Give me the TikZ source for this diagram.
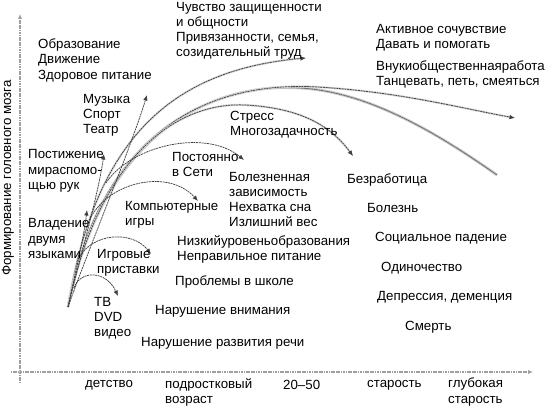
\documentclass[tikz,border=0pt]{standalone}
\usepackage{fontspec}
\setmainfont{Liberation Sans}
\usetikzlibrary{arrows.meta}
\begin{document}
\begin{tikzpicture}[x=1pt,y=-1pt,
  txt/.style={anchor=west,inner sep=0pt,align=left,font=\fontsize{13.3}{15.2}\selectfont},
  axis/.style={gray!75,line width=1.6pt,dash pattern=on 1.2pt off 0.5pt},
  curve/.style={black!75,line width=0.75pt,dash pattern=on 2pt off 0.7pt},
  tip/.style={-{Latex[length=5.5pt,width=4.5pt]}},
  halo/.style={preaction={draw,gray!30,line width=2.2pt,solid}},
  thickgray/.style={gray!40,line width=2.8pt,postaction={draw,gray!85!black,line width=0.9pt,dash pattern=on 2pt off 0.5pt}}]
\useasboundingbox (0,0) rectangle (550,411);
% axes
\coordinate (yb) at (20,383);
\coordinate (yt) at (20,14);
\coordinate (xl) at (11,372);
\coordinate (xr) at (533,372);
\draw[axis,-{Latex[length=5pt,width=4.5pt]}] (yb) -- (yt);
\draw[axis,-{Latex[length=5pt,width=4.5pt]}] (xl) -- (xr);
\node[rotate=90,inner sep=0pt,font=\fontsize{13.3}{15}\selectfont] (ylab) at (8,178) {Формирование головного мозга};
% x labels
\node[txt] (l1) at (85,385) {детство};
\node[txt,anchor=north west] (l2) at (165,378) {подростковый\\возраст};
\node[txt] (l3) at (283,385) {20–50};
\node[txt] (l4) at (367,385) {старость};
\node[txt,anchor=north west] (l5) at (448,378) {глубокая\\старость};
% coordinates of curves
\coordinate (O) at (68,307);
\coordinate (eMus) at (147,95);
\coordinate (ePost) at (104,154);
\coordinate (eVlad) at (87,210);
\coordinate (eA) at (306,58);
\coordinate (mB) at (318,87);
\coordinate (eB) at (515,118);
\coordinate (mC) at (300,88);
\coordinate (eC) at (497,175);
\coordinate (mD) at (245,105);
\coordinate (eD) at (353,156);
\coordinate (sNet) at (106,183);
\coordinate (eNet) at (244,160);
\coordinate (sComp) at (90,219);
\coordinate (eComp) at (198,201);
\coordinate (sGame) at (79,258);
\coordinate (eGame) at (151,254);
\coordinate (sTV) at (74,288);
\coordinate (eTV) at (118,296);
% bundle
\draw[thickgray] (O) .. controls (100,140) and (205,82) .. (mC) .. controls (370,92) and (440,135) .. (eC);
\draw[curve,halo,tip] (O) .. controls (95,140) and (170,70) .. (eA);
\draw[curve,halo,tip] (O) .. controls (98,140) and (200,80) .. (mB) .. controls (400,92) and (460,108) .. (eB);
\draw[curve,halo,tip] (O) .. controls (102,145) and (185,102) .. (mD) .. controls (300,108) and (330,125) .. (eD);
\draw[curve,tip] (O) .. controls (92,240) and (130,150) .. (eMus);
\draw[curve,tip] (O) .. controls (82,250) and (98,195) .. (ePost);
\draw[curve,tip] (O) .. controls (76,270) and (84,236) .. (eVlad);
% branches
\draw[curve,tip] (sNet) .. controls (130,146) and (205,128) .. (eNet);
\draw[curve,tip] (sComp) .. controls (108,182) and (168,168) .. (eComp);
\draw[curve,tip] (sGame) .. controls (92,233) and (132,230) .. (eGame);
\draw[curve,tip] (sTV) .. controls (80,270) and (106,270) .. (eTV);
% texts
\node[txt] (t1) at (176,31) {Чувство защищенности\\и общности\\Привязанности, семья,\\созидательный труд};
\node[txt] (t2) at (376,38) {Активное сочувствие\\Давать и помогать};
\node[txt] (t3) at (376,74.5) {Внукиобщественнаяработа\\Танцевать, петь, смеяться};
\node[txt] (t4) at (38,60.5) {Образование\\Движение\\Здоровое питание};
\node[txt] (t5) at (83,115.5) {Музыка\\Спорт\\Театр};
\node[txt] (t6) at (28,171) {Постижение\\мираспомо-\\щью рук};
\node[txt] (t7) at (28,238.5) {Владение\\двумя\\языками};
\node[txt] (t8) at (125,215) {Компьютерные\\игры};
\node[txt] (t9) at (97,262.5) {Игровые\\приставки};
\node[txt] (t10) at (94,318) {ТВ\\DVD\\видео};
\node[txt] (t11) at (172,164.5) {Постоянно\\в Сети};
\node[txt] (t12) at (230,125) {Стресс\\Многозадачность};
\node[txt] (t13) at (229,199.5) {Болезненная\\зависимость\\Нехватка сна\\Излишний вес};
\node[txt] (t14) at (177,249.5) {Низкийуровеньобразования\\Неправильное питание};
\node[txt] (t15) at (175,282) {Проблемы в школе};
\node[txt] (t16) at (155,311) {Нарушение внимания};
\node[txt] (t17) at (141,343) {Нарушение развития речи};
\node[txt] (t18) at (347,180) {Безработица};
\node[txt] (t19) at (367,208) {Болезнь};
\node[txt] (t20) at (375,238) {Социальное падение};
\node[txt] (t21) at (381,268) {Одиночество};
\node[txt] (t22) at (377,297) {Депрессия, деменция};
\node[txt] (t23) at (405,327) {Смерть};
\end{tikzpicture}
\end{document}
